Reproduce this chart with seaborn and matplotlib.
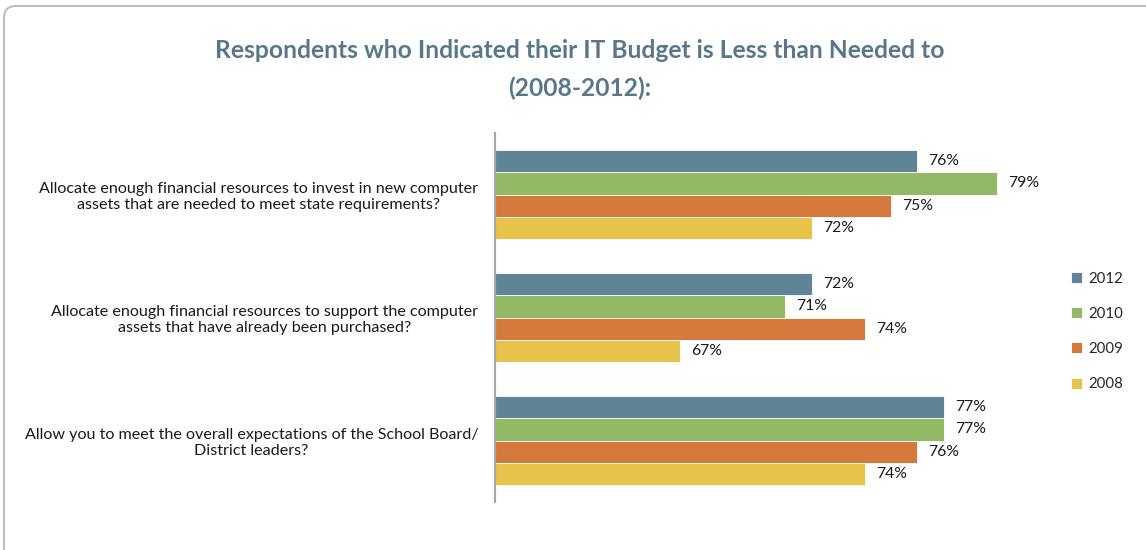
import matplotlib
matplotlib.use("Agg")
import matplotlib.pyplot as plt
from matplotlib.path import Path
from matplotlib.patches import PathPatch
import seaborn as sns
import pandas as pd

# Survey questions (y categories)
questions = [
    "Allocate enough financial resources to invest in new computer\nassets that are needed to meet state requirements?",
    "Allocate enough financial resources to support the computer\nassets that have already been purchased?",
    "Allow you to meet the overall expectations of the School Board/\nDistrict leaders?",
]
years = ["2012", "2010", "2009", "2008"]

# Percent of respondents per year, one list per question order
pct_2012 = [76, 72, 77]
pct_2010 = [79, 71, 77]
pct_2009 = [75, 74, 76]
pct_2008 = [72, 67, 74]

colors = ["#5F8496", "#94B966", "#D4783B", "#E8C34A"]

rows = []
for yr, vals in zip(years, [pct_2012, pct_2010, pct_2009, pct_2008]):
    for q, v in zip(questions, vals):
        rows.append({"Question": q, "Year": yr, "Percent": v})
df = pd.DataFrame(rows)

sns.set_theme(style="white")
plt.rcParams["font.family"] = ["Lato", "DejaVu Sans"]

fig = plt.figure(figsize=(11.46, 5.5), dpi=100)
ax = fig.add_axes([495 / 1146, 48 / 550, 528 / 1146, 369 / 550])

sns.barplot(
    data=df, y="Question", x="Percent", hue="Year",
    order=questions, hue_order=years, palette=colors,
    orient="h", width=0.72, ax=ax, edgecolor="white", linewidth=0.6,
    saturation=1,
)

for cont in ax.containers:
    ax.bar_label(cont, fmt="%d%%", padding=8, fontsize=11.3, color="#1a1a1a")

ax.set_xlim(60, 80)
ax.set_ylim(2.5, -0.5)
ax.set_xlabel("")
ax.set_ylabel("")
ax.set_xticks([])
ax.tick_params(axis="y", length=0, pad=12)
for lbl in ax.get_yticklabels():
    lbl.set_multialignment("center")
    lbl.set_fontsize(11.6)
    lbl.set_color("#1a1a1a")
for side in ["top", "right", "bottom"]:
    ax.spines[side].set_visible(False)
ax.spines["left"].set_color("#A6A6A6")
ax.spines["left"].set_linewidth(1.6)

leg = ax.legend(
    loc="center left", bbox_to_anchor=(1.08, 0.5 - 14 / 369),
    frameon=False, fontsize=10.8, handlelength=0.75, handleheight=0.75,
    handletextpad=0.4, labelspacing=1.42, borderaxespad=0,
)

fig.text(580 / 1146, 1 - 51 / 550, "Respondents who Indicated their IT Budget is Less than Needed to",
         ha="center", va="center", fontsize=17.7, fontweight="bold", color="#56788A")
fig.text(580 / 1146, 1 - 88 / 550, "(2008-2012):",
         ha="center", va="center", fontsize=17.7, fontweight="bold", color="#56788A")

# Rounded frame along the top and left edges
W, H, r = 1146, 550, 12
x0, ytop = 4, H - 6
verts = [(x0, 0), (x0, ytop - r), (x0, ytop), (x0 + r, ytop), (W + 5, ytop)]
codes = [Path.MOVETO, Path.LINETO, Path.CURVE3, Path.CURVE3, Path.LINETO]
fig.add_artist(PathPatch(Path(verts, codes), transform=None, fill=False,
                         edgecolor="#BDBDBD", linewidth=1.5))

fig.savefig("out.png", dpi=100)
